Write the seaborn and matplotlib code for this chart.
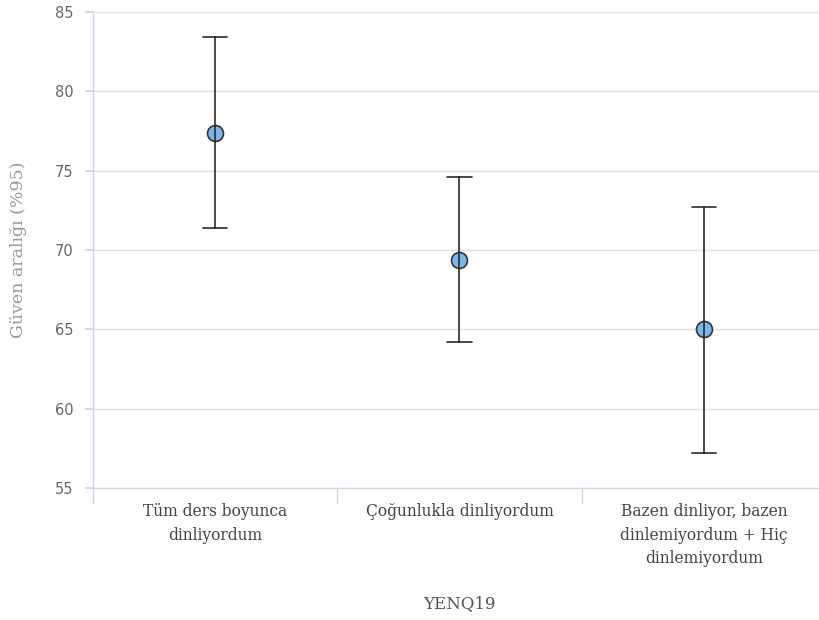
import matplotlib
matplotlib.use("Agg")
import matplotlib.pyplot as plt
import seaborn as sns
import pandas as pd
from matplotlib.ticker import FixedLocator

categories = ["Tüm ders boyunca\ndinliyordum",
              "Çoğunlukla dinliyordum",
              "Bazen dinliyor, bazen\ndinlemiyordum + Hiç\ndinlemiyordum"]
means = [77.4, 69.4, 65.0]
lower = [71.4, 64.2, 57.2]
upper = [83.4, 74.6, 72.7]
y_ticks = [55, 60, 65, 70, 75, 80, 85]

rows = []
for c, lo, m, hi in zip(categories, lower, means, upper):
    for v in (lo, m, hi):
        rows.append({"cat": c, "val": v})
df = pd.DataFrame(rows)

sns.set_theme(style="white")
plt.rcParams['font.family'] = ['DejaVu Sans']

fig = plt.figure(figsize=(8.2, 6.2), dpi=100)
ax = fig.add_axes([93/820, 1 - 488/620, 733/820, 476/620])

sns.pointplot(data=df, x="cat", y="val", order=categories,
              estimator="median", errorbar=("pi", 100),
              linestyle="none", color="#333333", capsize=0.1,
              err_kws={"linewidth": 1.2, "color": "#2a2a2a"},
              marker="o", markersize=11.5, markerfacecolor="#7cb5ec",
              markeredgecolor="#333333", markeredgewidth=1.2, ax=ax, zorder=3)

ax.set_xlim(-0.5, 2.5)
ax.set_ylim(55, 85)
ax.set_yticks(y_ticks)
ax.yaxis.grid(True, color="#e0e0e0", linewidth=1)
ax.xaxis.grid(False)
for s in ["top", "right"]:
    ax.spines[s].set_visible(False)
ax.spines["left"].set_color("#ccd6eb")
ax.spines["bottom"].set_color("#ccd6eb")
ax.spines["left"].set_linewidth(1)
ax.spines["bottom"].set_linewidth(1)

ax.tick_params(axis="y", which="major", length=6, color="#ccd6eb",
               labelcolor="#666666", labelsize=10.5, pad=8, left=True)

ax.xaxis.set_minor_locator(FixedLocator([-0.5, 0.5, 1.5, 2.5]))
ax.tick_params(axis="x", which="minor", length=11, color="#ccd6eb",
               bottom=True, width=1)
ax.tick_params(axis="x", which="major", length=0, pad=11,
               labelcolor="#444444", labelsize=11.2)
ax.set_xticks(range(len(categories)))
ax.set_xticklabels(categories, family="DejaVu Serif", linespacing=1.5)

ax.set_xlabel("YENQ19", family="DejaVu Serif", fontsize=12, color="#555555",
              labelpad=20)
ax.set_ylabel("Güven aralığı (%95)", family="DejaVu Serif", fontsize=12.5,
              color="#999999", labelpad=20)

fig.savefig("out.png", dpi=100)
